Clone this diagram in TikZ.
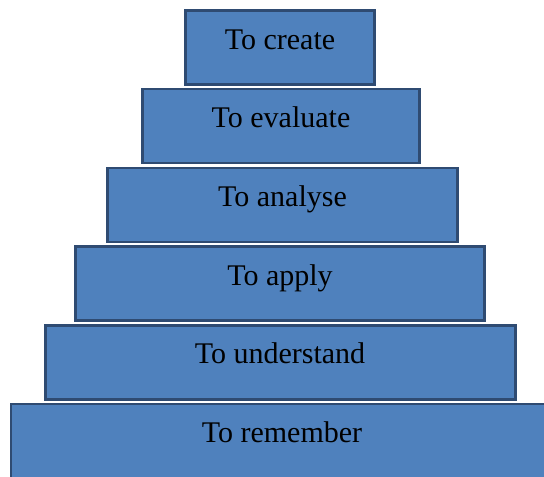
\documentclass[tikz,border=0pt]{standalone}
\usepackage{fontspec}
\setmainfont{Liberation Serif}
\definecolor{tierfill}{HTML}{4F81BD}
\definecolor{tierline}{HTML}{2F4B72}
\begin{document}
\begin{tikzpicture}[x=1pt,y=-1pt,
  tier/.style={draw=tierline, fill=tierfill, line width=2.4pt, inner sep=0pt, minimum height=74pt},
  lbl/.style={anchor=base, inner sep=0pt, font=\fontsize{30}{34}\selectfont, text=black}]
\useasboundingbox (0,0) rectangle (544,477);
\clip (0,0) rectangle (544,477);
\node[tier, minimum width=189pt] (b1) at (280,47.5) {};
\node[tier, minimum width=277pt] (b2) at (281,126) {};
\node[tier, minimum width=350pt] (b3) at (282.5,205) {};
\node[tier, minimum width=409pt] (b4) at (280,283.5) {};
\node[tier, minimum width=470pt] (b5) at (280.5,362.5) {};
\node[tier, minimum width=540pt] (b6) at (281,441) {};
\node[lbl] (t1) at (280,49) {To create};
\node[lbl] (t2) at (281,127.5) {To evaluate};
\node[lbl] (t3) at (282.5,206.5) {To analyse};
\node[lbl] (t4) at (280,285) {To apply};
\node[lbl] (t5) at (280,363) {To understand};
\node[lbl] (t6) at (282,442.5) {To remember};
\end{tikzpicture}
\end{document}
